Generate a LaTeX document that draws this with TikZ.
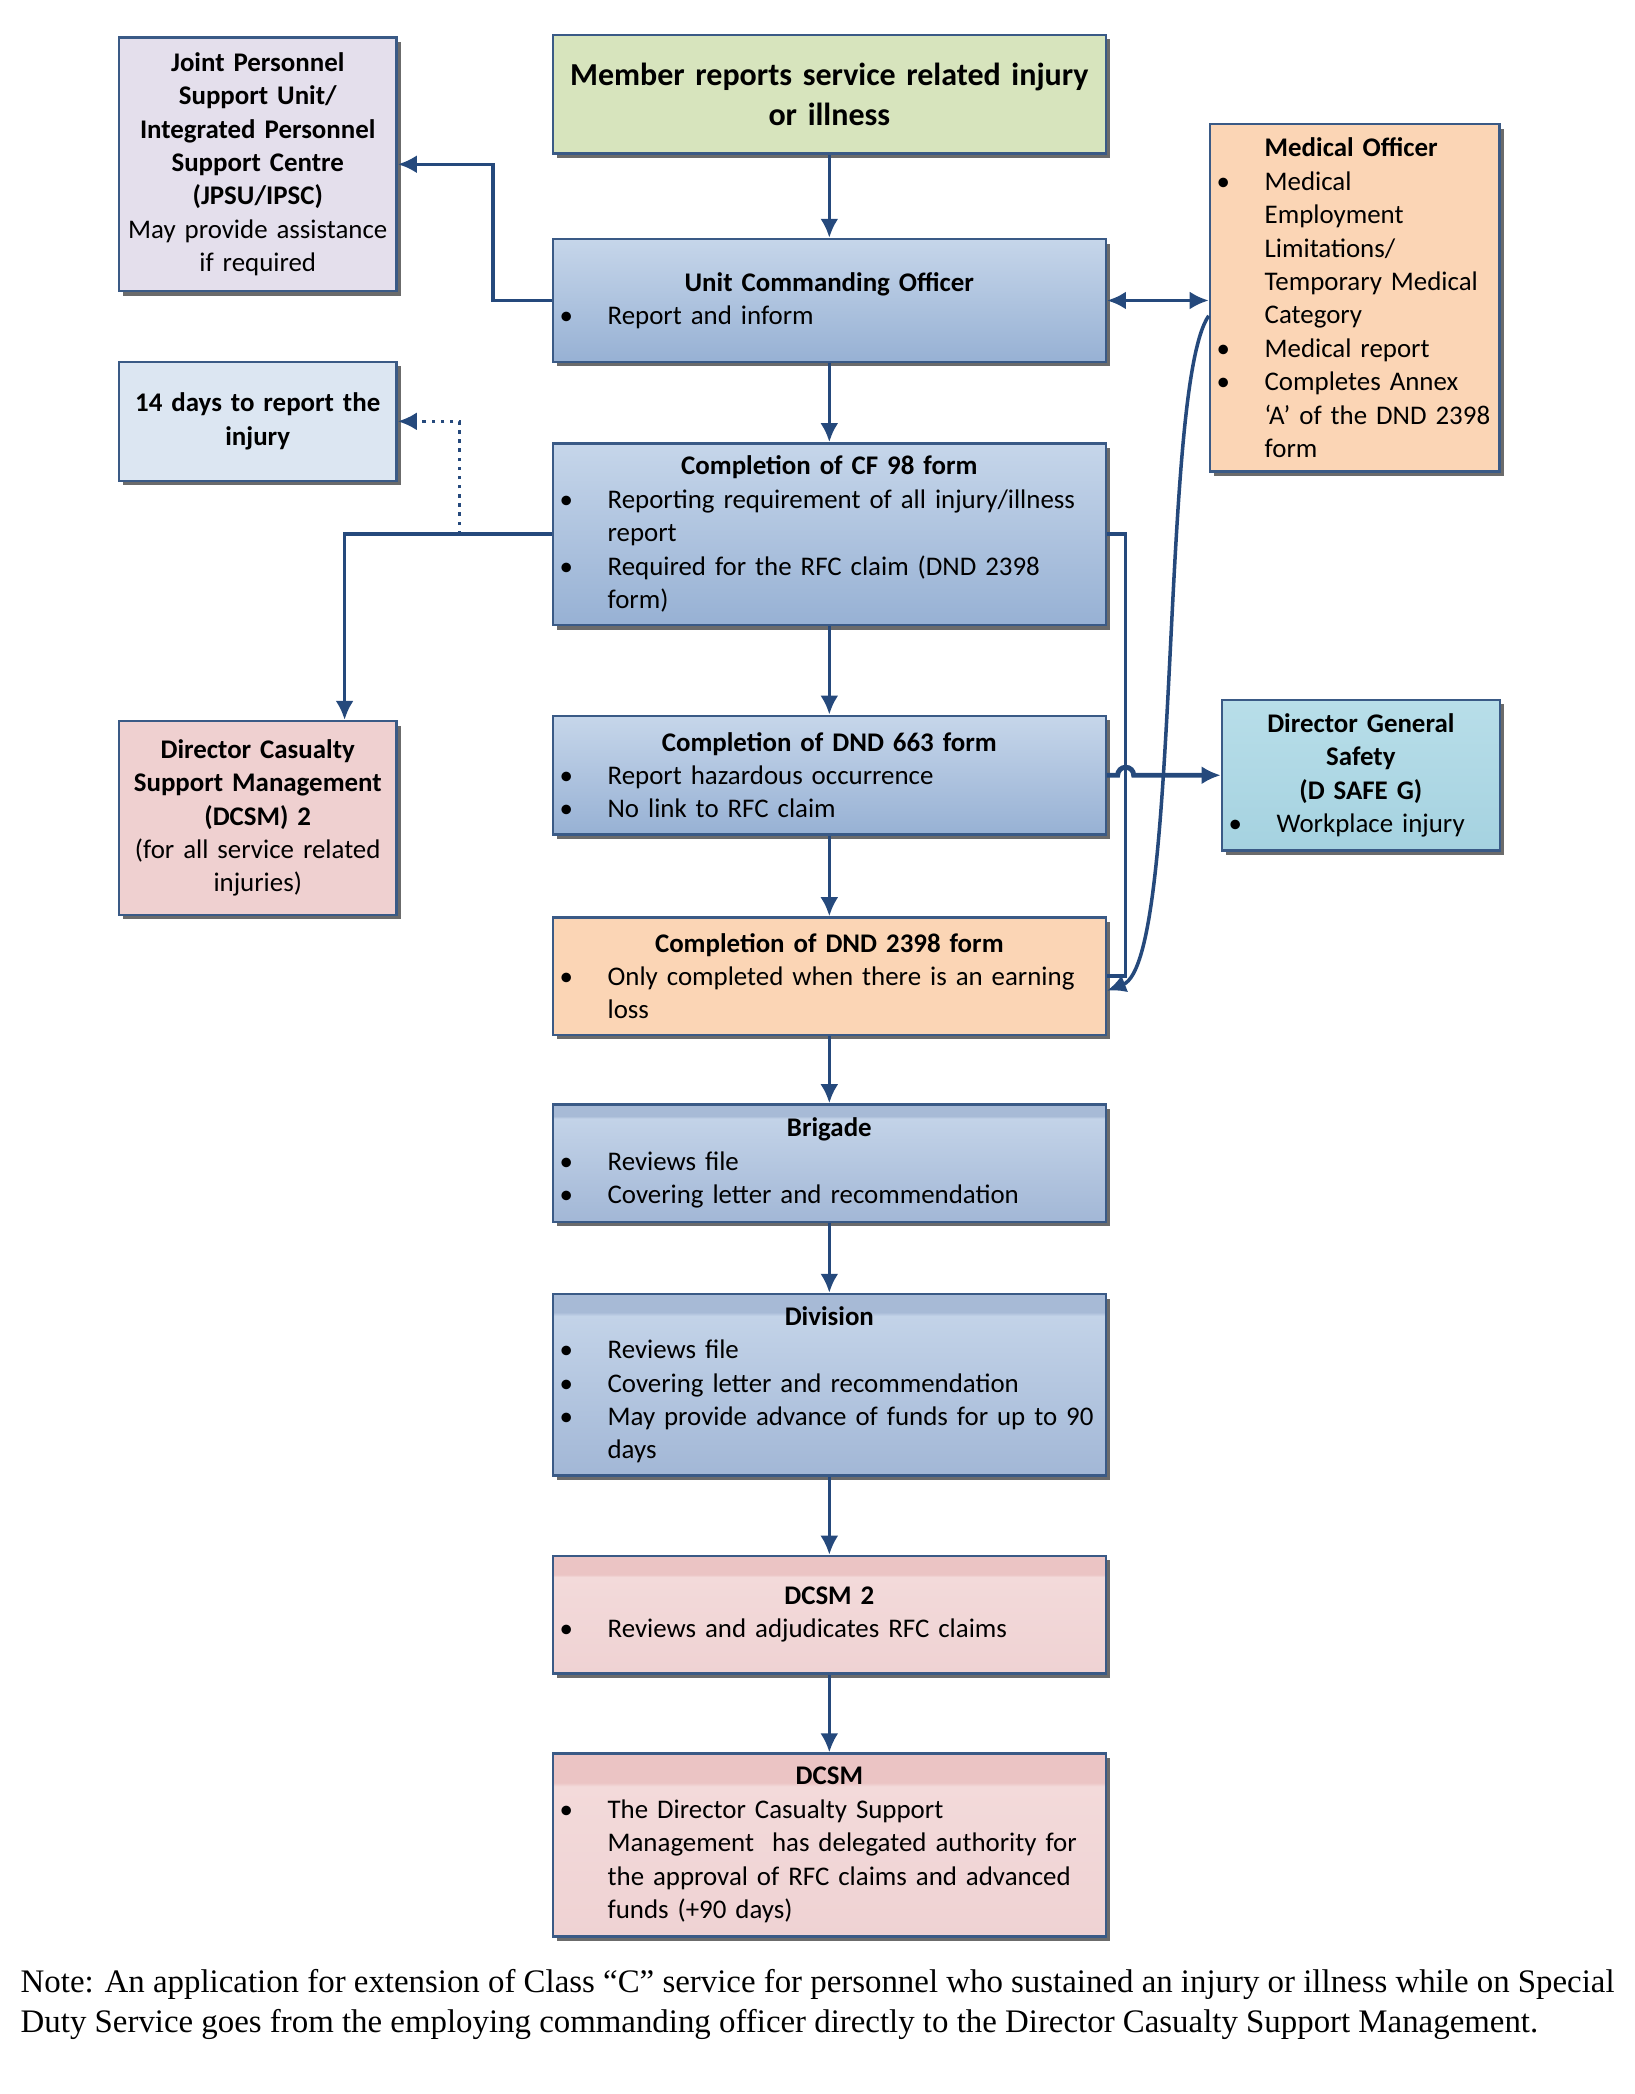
\documentclass[tikz,border=0pt]{standalone}
\usepackage{fontspec}
\setmainfont{Carlito}
\newfontfamily\notefont{Liberation Serif}
\usetikzlibrary{arrows.meta,shadows,calc}

\definecolor{edge}{HTML}{3A5A86}
\definecolor{linkc}{HTML}{25497C}
\definecolor{greenfill}{HTML}{D7E4BD}
\definecolor{lavender}{HTML}{E4DFEC}
\definecolor{peach}{HTML}{FBD5B5}
\definecolor{paleblue}{HTML}{DCE6F2}
\definecolor{pinkside}{HTML}{EFD0D0}
\definecolor{cyanA}{HTML}{B8DEE9}
\definecolor{cyanB}{HTML}{A5D2E0}
\definecolor{blueA}{HTML}{C6D6EA}
\definecolor{blueB}{HTML}{97B1D4}
\definecolor{bandblue}{HTML}{A7BAD6}
\definecolor{lightblue}{HTML}{C3D3E8}
\definecolor{lowblue}{HTML}{A2B7D6}
\definecolor{bandpink}{HTML}{EBC4C4}
\definecolor{lightpink}{HTML}{F3DADA}
\definecolor{lowpink}{HTML}{EFD2D3}
\definecolor{shadowc}{HTML}{6B6B6B}

\pgfdeclareverticalshading{blueband}{100bp}{color(0bp)=(lowblue); color(25bp)=(lowblue);
  color(69bp)=(lightblue); color(70bp)=(bandblue); color(100bp)=(bandblue)}
\pgfdeclareverticalshading{pinkband}{100bp}{color(0bp)=(lowpink); color(25bp)=(lowpink);
  color(66bp)=(lightpink); color(67bp)=(bandpink); color(100bp)=(bandpink)}

\newcommand{\boxfont}{\fontsize{7.65}{9.5}\selectfont}
\newlength{\bulind}\setlength{\bulind}{0.48cm}
\newcommand{\boxtitle}[1]{{\centering\textbf{#1}\par}}
\newcommand{\bitem}[1]{\par\hangindent=\bulind\hangafter=1\noindent\makebox[\bulind][l]{\textbullet}#1\par}

\begin{document}
\begin{tikzpicture}[x=0.01335cm, y=-0.01335cm, >={Latex[length=1.9mm, width=1.8mm]},
  base/.style={draw=edge, line width=0.7pt, inner ysep=0pt, minimum height=#1, font=\boxfont,
    drop shadow={shadow xshift=0.45mm, shadow yshift=-0.45mm, fill=shadowc, opacity=1}},
  mainbox/.style={base=#1, text width=5.393cm, inner xsep=0.067cm, align=left},
  sidebox/.style={base=#1, text width=2.70cm, inner xsep=0.038cm, align=center},
  mobox/.style={base=#1, text width=2.763cm, inner xsep=0.067cm, align=left},
  link/.style={draw=linkc, line width=1pt, ->},
  thinlink/.style={line width=0.8pt}]

\useasboundingbox (0,0) rectangle (1224,1568);

% Main column
\node[mainbox=1.188cm, fill=greenfill, align=center, font=\fontsize{9.1}{11.4}\selectfont\bfseries]
  (member) at (621,70.5) {Member reports service related injury\\or illness};
\node[mainbox=1.228cm, top color=blueA, bottom color=blueB] (uco) at (621,225)
  {\boxtitle{Unit Commanding Officer}\bitem{Report and inform}};
\node[mainbox=1.816cm, top color=blueA, bottom color=blueB] (cf) at (621,400)
  {\boxtitle{Completion of CF 98 form}%
   \bitem{Reporting requirement of all injury/illness\newline report}%
   \bitem{Required for the RFC claim (DND 2398\newline form)}};
\node[mainbox=1.188cm, top color=blueA, bottom color=blueB] (d663) at (621,580.5)
  {\boxtitle{Completion of DND 663 form}\bitem{Report hazardous occurrence}\bitem{No link to RFC claim}};
\node[mainbox=1.175cm, fill=peach] (d2398) at (621,731)
  {\boxtitle{Completion of DND 2398 form}\bitem{Only completed when there is an earning\newline loss}};
\node[mainbox=1.175cm, shading=blueband] (brig) at (621,871)
  {\boxtitle{Brigade}\bitem{Reviews file}\bitem{Covering letter and recommendation}};
\node[mainbox=1.816cm, shading=blueband] (div) at (621,1037)
  {\boxtitle{Division}\bitem{Reviews file}\bitem{Covering letter and recommendation}%
   \bitem{May provide advance of funds for up to 90\newline days}};
\node[mainbox=1.175cm, shading=pinkband] (dcsmb) at (621,1209)
  {\boxtitle{DCSM 2}\bitem{Reviews and adjudicates RFC claims}};
\node[mainbox=1.829cm, shading=pinkband] (dcsm) at (621,1381.5)
  {\boxtitle{DCSM}\bitem{The Director Casualty Support\newline Management\ \ has delegated authority for\newline
   the approval of RFC claims and advanced\newline funds (+90 days)}};

% Left column
\node[sidebox=2.537cm, fill=lavender] (jpsu) at (193,123)
  {{\bfseries Joint Personnel\\Support Unit/\\Integrated Personnel\\Support Centre\\(JPSU/IPSC)}\\
   May provide assistance\\if required};
\node[sidebox=1.188cm, fill=paleblue] (days) at (193,315.5) {{\bfseries 14 days to report the\\injury}};
\node[sidebox=1.936cm, fill=pinkside] (dcsml) at (193,612.5)
  {{\bfseries Director Casualty\\Support Management\\(DCSM) 2}\\(for all service related\\injuries)};

% Right column
\node[mobox=3.471cm, fill=peach] (mo) at (1014.5,223)
  {\noindent\hspace*{\bulind}\textbf{Medical Officer}\par
   \bitem{Medical\newline Employment\newline Limitations/\newline Temporary Medical\newline Category}%
   \bitem{Medical report}\bitem{Completes Annex\newline `A' of the DND 2398\newline form}};
\node[mobox=1.509cm, text width=2.643cm, top color=cyanA, bottom color=cyanB] (dgs) at (1019,580.5)
  {\boxtitle{Director General\\Safety\\(D SAFE G)}\bitem{Workplace injury}};

% Main chain arrows
\draw[link] (member) -- (uco);
\draw[link] (uco) -- (cf);
\draw[link] (cf) -- (d663);
\draw[link] (d663) -- (d2398);
\draw[link] (d2398) -- (brig);
\draw[link] (brig) -- (div);
\draw[link, thinlink] (div) -- (dcsmb);
\draw[link, thinlink] (dcsmb) -- (dcsm);

% Side arrows
\draw[link] (uco.west) -- ++(-44,0) |- (jpsu.east);
\draw[link, <->] (uco.east) -- (uco.east -| mo.west);
\draw[link] (cf.west) -| ($(dcsml.north)!0.62!(dcsml.north east)$);
\coordinate (split) at (344,400);
\draw[link, line width=0.9pt, dash pattern=on 1pt off 1.6pt] (split) |- (days.east);
\draw[link, -] (cf.east) -- ++(14,0) |- (d2398.east);
\draw[link, line width=1.4pt] (d663.east) -- ++(8,0) arc[start angle=180, end angle=360, radius=6] -- (dgs.west);
\draw[link] (mo.187) .. controls (868,290) and (885,720) .. (d2398.-3);

% Note
\node[anchor=north west, align=left, inner sep=0pt, font=\notefont\fontsize{9.35}{11.4}\selectfont] (note) at (15,1474)
  {Note: An application for extension of Class “C” service for personnel who sustained an injury or illness while on Special\\
   Duty Service goes from the employing commanding officer directly to the Director Casualty Support Management.};

\end{tikzpicture}
\end{document}
